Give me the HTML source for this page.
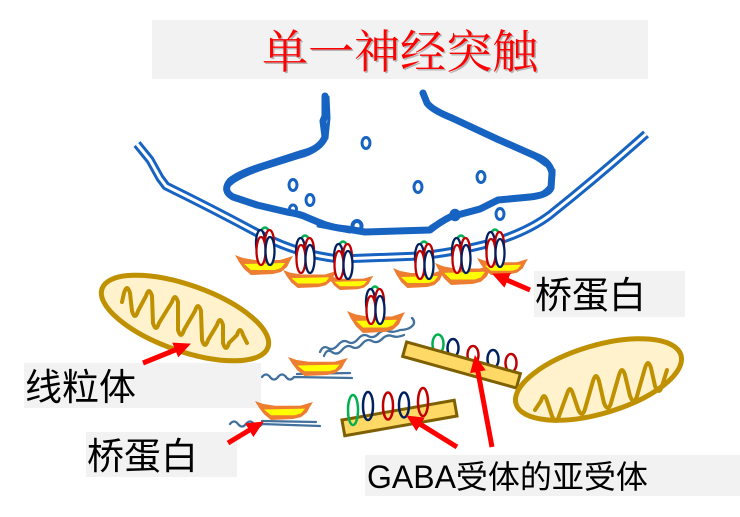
<!DOCTYPE html>
<html><head><meta charset="utf-8"><style>
html,body{margin:0;padding:0;background:#fff;}
svg{display:block;}
</style></head><body>
<svg width="740" height="517" viewBox="0 0 740 517" xmlns="http://www.w3.org/2000/svg">
<defs>
  <marker id="ah" markerUnits="userSpaceOnUse" markerWidth="17" markerHeight="17" refX="8" refY="8" orient="auto">
    <path d="M0,0 L17,8 L0,16 Z" fill="#ff0000"/>
  </marker>
  <g id="boat">
    <path d="M0,0 L8,3 L20,5 L45,5 L58,1 L55,6 L52,12 L46,17 L38,19 L16,20 L9,14 L4,7 Z" fill="#ed7d31"/>
    <path d="M9,9 L50,8 L46,13 L40,15 L16,15 Z" fill="#ffff00"/>
  </g>
  <g id="cl">
    <path d="M-5,7 Q0,-4 5,7" stroke="#00b050" stroke-width="2.5" fill="none"/>
    <ellipse cx="-4.5" cy="17" rx="4.5" ry="13" fill="#fff" stroke="#002060" stroke-width="2.3"/>
    <ellipse cx="4.5" cy="17" rx="4.5" ry="13" fill="#fff" stroke="#c00000" stroke-width="2.3"/>
    <ellipse cx="-4" cy="25" rx="4.5" ry="14" fill="#fff" stroke="#c00000" stroke-width="2.3"/>
    <ellipse cx="5" cy="25" rx="4.5" ry="14" fill="#fff" stroke="#002060" stroke-width="2.3"/>
  </g>
</defs>

<!-- title -->
<rect x="152" y="20" width="496" height="59" fill="#f2f2f2"/>
<text x="401.5" y="69.5" text-anchor="middle" font-family="'Liberation Serif','Noto Serif CJK SC',serif" font-size="46" fill="#9a9a9a" opacity="0.7">单一神经突触</text>
<text x="400" y="68" text-anchor="middle" font-family="'Liberation Serif','Noto Serif CJK SC',serif" font-size="46" fill="#ff0000">单一神经突触</text>

<!-- label boxes -->
<rect x="24" y="363" width="237" height="45" fill="#f2f2f2"/>
<rect x="86" y="432" width="151" height="45" fill="#f2f2f2"/>
<rect x="534" y="271" width="151" height="46" fill="#f2f2f2"/>
<rect x="365" y="455" width="375" height="41" fill="#f2f2f2"/>

<g font-family="'Liberation Sans','Noto Sans CJK SC',sans-serif" fill="#000">
  <text x="25" y="400" font-size="37">线粒体</text>
  <text x="87" y="469" font-size="37">桥蛋白</text>
  <text x="535" y="308" font-size="37">桥蛋白</text>
  <text x="367" y="488" font-size="32">GABA受体的亚受体</text>
</g>

<!-- presynaptic terminal -->
<g fill="none" stroke="#1763c2" stroke-linecap="round" stroke-linejoin="round">
  <path stroke-width="7" d="M325,96 L325,116 L323,121 L325,137 Q320,149 303,153 L263,166 Q240,173 230,181 Q222,191 233,197 L257,205 L287,212 Q300,214 306,217 L318,222 Q332,228 347,229 L365,232 L430,230 Q440,222 450,217 L480,209 Q490,204 498,200 L530,197 Q548,195 551,188 L552,173 Q550,163 540,158 L497,139 L452,118 Q432,110 427,103 L423,93"/>
  <path stroke-width="3" d="M328,97 L329,118 L327,138 Q318,153 300,157 L262,169 Q236,178 229,186 M236,200 L270,208 M430,227 Q448,215 470,210 M540,194 Q555,185 554,170 M456,121 L500,142 Q530,153 545,165 M318,226 L350,232"/>
  <ellipse cx="366" cy="143" rx="4" ry="5.5" stroke-width="3"/>
  <ellipse cx="293" cy="185" rx="4" ry="5.5" stroke-width="3"/>
  <ellipse cx="310" cy="200" rx="4" ry="5.5" stroke-width="3"/>
  <ellipse cx="418" cy="187" rx="4" ry="5.5" stroke-width="3"/>
  <ellipse cx="481" cy="177" rx="4" ry="5.5" stroke-width="3"/>
  <ellipse cx="500" cy="214" rx="4" ry="5.5" stroke-width="3"/>
  <ellipse cx="357" cy="226" rx="4.5" ry="5" stroke-width="4"/>
  <ellipse cx="455" cy="215" rx="4" ry="4.5" stroke-width="3.5"/>
  <ellipse cx="293" cy="209" rx="3.5" ry="4" stroke-width="3"/>
</g>

<!-- postsynaptic double membrane -->
<path d="M137,144 L150,160 L160,178 L166,186 Q215,210 263,236 Q300,255 340,259 L420,256 Q470,250 500,240 Q530,230 550,215 Q600,175 646,134" fill="none" stroke="#1763c2" stroke-width="9" stroke-linejoin="round"/>
<path d="M137,144 L150,160 L160,178 L166,186 Q215,210 263,236 Q300,255 340,259 L420,256 Q470,250 500,240 Q530,230 550,215 Q600,175 646,134" fill="none" stroke="#fff" stroke-width="3" stroke-linejoin="round"/>

<!-- ribbons -->
<g fill="none" stroke="#41719c" stroke-width="2.3" stroke-linecap="round">
  <path d="M412,318 C418,324 410,330 400,330 Q393,333 388,331 T378,334 T368,336 T358,339 T348,342 T338,345 T328,348 T320,352"/>
  <path d="M404,335 Q397,338 392,336 T382,339 T372,341 T362,344 T352,347 T342,350 T332,352 T324,356"/>
  <path d="M262,377 Q266,372 270,377 T278,377 T286,377 T294,377 L352,378"/>
  <path d="M297,374 L350,373"/>
  <path d="M230,424 Q234,419 238,424 T246,424 T254,424 T262,424 L320,426"/>
  <path d="M262,421 L316,422"/>
</g>

<!-- boats -->
<use href="#boat" transform="translate(235,255) scale(1,1)"/>
<use href="#boat" transform="translate(283,270) scale(0.93,0.9)"/>
<use href="#boat" transform="translate(327,275) scale(0.8,0.75)"/>
<use href="#boat" transform="translate(393,268) scale(0.9,1)"/>
<use href="#boat" transform="translate(435,263) scale(1,1.1)"/>
<use href="#boat" transform="translate(477,258) scale(0.88,0.85)"/>
<use href="#boat" transform="translate(347,311) scale(1,1.1)"/>
<use href="#boat" transform="translate(288,357) scale(1.03,0.95)"/>
<use href="#boat" transform="translate(255,401) scale(1,0.95)"/>

<!-- receptor clusters -->
<use href="#cl" x="265" y="226"/>
<use href="#cl" x="305" y="234"/>
<use href="#cl" x="343" y="240"/>
<use href="#cl" x="424" y="240"/>
<use href="#cl" x="461" y="234"/>
<use href="#cl" x="495" y="228"/>
<use href="#cl" x="375" y="285"/>

<!-- upper GABA bar -->
<g fill="none" stroke-width="2.5">
  <ellipse cx="438" cy="344" rx="5.5" ry="9.5" stroke="#00b050"/>
  <ellipse cx="453" cy="348" rx="5.5" ry="9" stroke="#002060"/>
  <ellipse cx="473" cy="355" rx="5.5" ry="9" stroke="#c00000"/>
  <ellipse cx="493" cy="359" rx="5.5" ry="9" stroke="#002060"/>
  <ellipse cx="511" cy="363" rx="5.5" ry="9" stroke="#c00000"/>
</g>
<rect x="402.5" y="357.5" width="118" height="15" transform="rotate(15.5 461.5 365)" fill="#ffd966" stroke="#7f6000" stroke-width="3"/>

<!-- lower GABA bar -->
<rect x="342.5" y="410" width="114" height="16" transform="rotate(-10 399.5 418)" fill="#ffd966" stroke="#7f6000" stroke-width="3"/>
<g fill="none" stroke-width="2.5">
  <ellipse cx="353" cy="410" rx="5" ry="15" stroke="#00b050"/>
  <ellipse cx="368" cy="406" rx="5" ry="14" stroke="#002060"/>
  <ellipse cx="388" cy="406" rx="5" ry="13.5" stroke="#c00000"/>
  <ellipse cx="404" cy="405" rx="5" ry="12.5" stroke="#002060"/>
  <ellipse cx="423" cy="402" rx="5" ry="14" stroke="#c00000"/>
</g>

<!-- mitochondria -->
<g transform="rotate(19.5 185 318)">
  <ellipse cx="185" cy="318" rx="88" ry="33" fill="#fff2cc" stroke="#bf9000" stroke-width="5"/>
</g>
<path d="M122,302 L124,293 Q127,283 130,293 L132,311 Q135,321 138,311 L146,296 Q149,286 152,296 L153,323 Q156,333 159,323 L172,302 Q175,292 178,302 L178,330 Q181,340 184,330 L195,311 Q198,301 201,311 L202,340 Q205,350 208,340 L217,325 Q220,315 223,325 L223,343 Q226,353 229,343 L237,335 Q240,325 243,335 L247,343" fill="none" stroke="#bf9000" stroke-width="4" stroke-linejoin="round" stroke-linecap="round"/>

<g transform="rotate(-16.5 598.5 379.5)">
  <ellipse cx="598.5" cy="379.5" rx="86" ry="34" fill="#fff2cc" stroke="#bf9000" stroke-width="5"/>
</g>
<path d="M535,410 L541,401 Q544,391 547,401 L552,416 Q556,426 559,416 L567,394 Q570,384 573,394 L578,409 Q582,419 585,409 L593,381 Q596,371 599,381 L604,403 Q608,413 611,403 L619,375 Q622,365 625,375 L630,396 Q634,406 637,396 L645,368 Q648,358 651,368 L655,386 Q659,396 662,386 L667,370" fill="none" stroke="#bf9000" stroke-width="4" stroke-linejoin="round" stroke-linecap="round"/>

<!-- arrows -->
<g stroke="#ff0000" stroke-width="5" fill="none" marker-end="url(#ah)">
  <line x1="143" y1="363" x2="182.6" y2="347"/>
  <line x1="228" y1="443" x2="256.1" y2="426.1"/>
  <line x1="530" y1="290" x2="500.3" y2="277.2"/>
  <line x1="457" y1="447" x2="413.8" y2="420.2"/>
  <line x1="492" y1="447" x2="476.5" y2="363.9"/>
</g>
</svg>
</body></html>
